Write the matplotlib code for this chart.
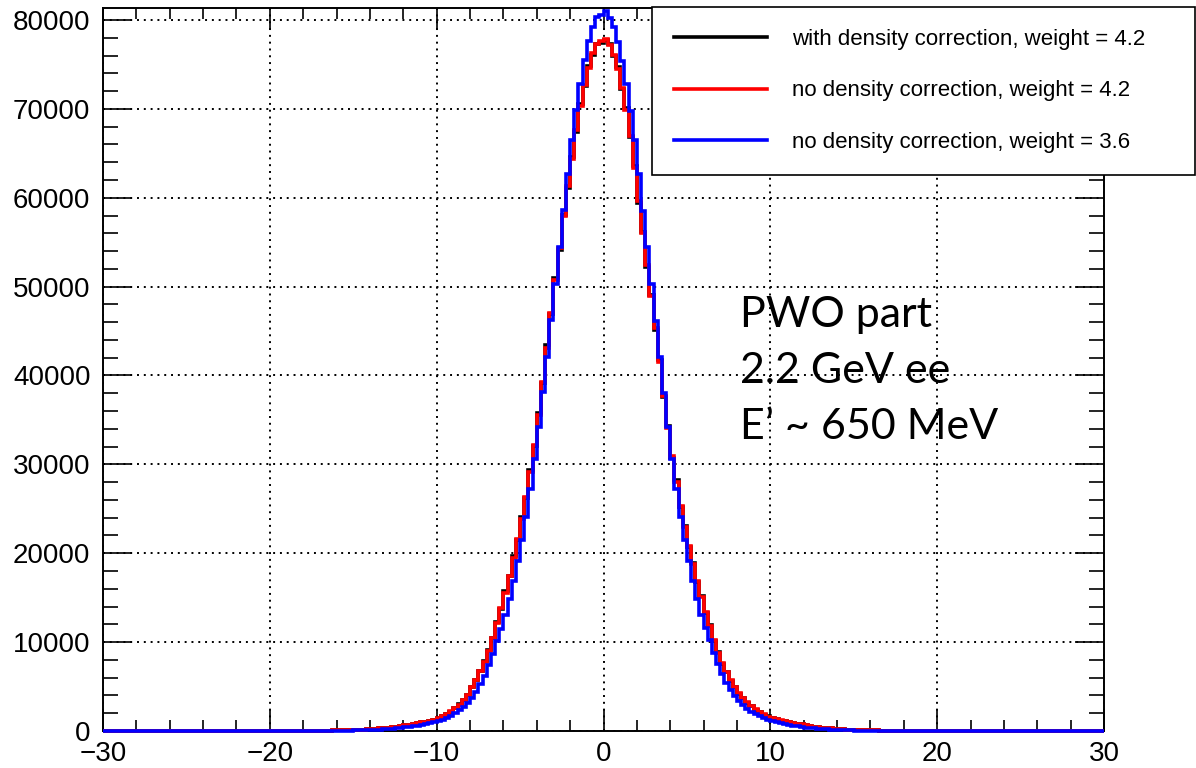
import numpy as np
import matplotlib
matplotlib.use('Agg')
import matplotlib.pyplot as plt
from matplotlib.lines import Line2D
from matplotlib.ticker import MultipleLocator

# histogram binning (ROOT style: 240 bins from -30 to 30)
x_low, x_high, n_bins = -30.0, 30.0, 240

# counts per bin (left to right)
black_counts = [
    0, 0, 0, 0, 0, 0,
    0, 0, 0, 0, 0, 0, 0, 0, 0, 0,
    0, 0, 1, 0, 0, 1, 0, 1, 0, 1,
    1, 1, 2, 1, 2, 3, 2, 3, 4, 4,
    5, 5, 6, 7, 7, 9, 10, 11, 13, 15,
    17, 19, 23, 26, 30, 34, 39, 45, 52, 61,
    70, 85, 97, 108, 126, 140, 168, 188,
    221, 247, 290, 328, 385, 433, 505, 570,
    655, 708, 795, 862, 970, 1050, 1180, 1280,
    1480, 1660, 1940, 2190, 2580, 2990, 3490, 4060,
    4950, 5780, 6800, 7820, 9100, 10500, 12250, 13780,
    15700, 17420, 19650, 21500, 24050, 26250, 29350, 32050,
    35750, 39150, 43400, 46950, 50950, 54150, 58100, 61150,
    64600, 67450, 70500, 72550, 74850, 76100, 77350, 77400,
    77700, 77300, 75900, 74700, 72250, 70050, 66800, 63600,
    59400, 56200, 52250, 49100, 45150, 41700, 37550, 34300,
    30750, 28200, 25200, 23100, 20650, 18900, 16750, 15150,
    13250, 11900, 10100, 8870, 7540, 6660, 5630, 4950,
    4200, 3720, 3180, 2830, 2410, 2150, 1840, 1650,
    1420, 1320, 1180, 1095, 975, 900, 805, 745,
    650, 575, 495, 438, 375, 330, 283, 250,
    213, 190, 161, 143, 121, 109, 93, 83,
    70, 63, 52, 47, 39, 36, 29, 27, 22, 20,
    16, 15, 12, 11, 10, 8, 7, 6, 5, 4,
    4, 3, 2, 3, 2, 1, 2, 1, 1, 0,
    1, 1, 0, 0, 1, 0, 0, 0, 0, 0,
    0, 0, 0, 0, 0, 0, 0, 0, 0, 0,
    0, 0, 0, 0, 0, 0,
]

red_counts = [
    0, 0, 0, 0, 0, 0,
    0, 0, 0, 0, 0, 0, 0, 0, 0, 0,
    0, 0, 0, 1, 0, 0, 1, 0, 1, 1,
    1, 1, 1, 2, 2, 2, 3, 3, 3, 4,
    4, 5, 5, 6, 7, 8, 9, 11, 12, 14,
    16, 19, 22, 25, 29, 33, 38, 44, 51, 62,
    72, 83, 95, 110, 124, 143, 166, 190,
    218, 250, 287, 331, 382, 437, 501, 575,
    649, 713, 787, 870, 961, 1058, 1168, 1288,
    1463, 1674, 1923, 2208, 2560, 2980, 3480, 4080,
    4900, 5760, 6720, 7800, 9030, 10520, 12170, 13820,
    15580, 17480, 19480, 21580, 23830, 26340, 29110, 32130,
    35520, 39260, 43150, 47050, 50700, 54300, 57900, 61300,
    64400, 67600, 70300, 72700, 74650, 76250, 77250, 77600,
    77900, 77200, 76100, 74500, 72400, 69900, 67000, 63400,
    59600, 56000, 52400, 48900, 45300, 41500, 37700, 34100,
    30900, 28000, 25350, 22950, 20800, 18780, 16870, 15050,
    13380, 11800, 10220, 8790, 7620, 6600, 5700, 4900,
    4240, 3690, 3210, 2800, 2440, 2130, 1860, 1630,
    1440, 1310, 1190, 1085, 985, 895, 815, 740,
    655, 572, 498, 435, 377, 327, 285, 248,
    215, 188, 163, 141, 123, 108, 94, 82,
    71, 62, 53, 46, 40, 35, 30, 26, 23, 20,
    17, 15, 13, 11, 9, 8, 7, 6, 5, 5,
    4, 3, 3, 2, 2, 2, 1, 1, 1, 1,
    1, 1, 0, 1, 0, 0, 1, 0, 0, 0,
    0, 0, 0, 0, 0, 0, 0, 0, 0, 0,
    0, 0, 0, 0, 0, 0,
]

blue_counts = [
    0, 0, 0, 0, 0, 0,
    0, 0, 0, 0, 0, 0, 0, 0, 0, 0,
    0, 0, 0, 0, 0, 0, 0, 0, 1, 0,
    0, 1, 0, 1, 1, 1, 1, 1, 1, 1,
    2, 2, 2, 2, 3, 3, 4, 5, 5, 6,
    7, 8, 10, 11, 13, 15, 17, 20, 23, 27,
    30, 35, 42, 49, 58, 68, 80, 95,
    114, 133, 157, 186, 219, 257, 300, 352,
    404, 456, 518, 589, 665, 760, 865, 980,
    1120, 1290, 1490, 1730, 2010, 2340, 2720, 3160,
    3740, 4430, 5260, 6230, 7370, 8680, 10100, 11480,
    13050, 14850, 16850, 19100, 21450, 24100, 27200, 30600,
    34250, 38100, 42100, 46200, 50350, 54500, 58600, 62700,
    66500, 69850, 72850, 75450, 77600, 79250, 80300, 80600,
    81000, 80250, 79200, 77550, 75400, 72800, 69800, 66450,
    62650, 58550, 54450, 50300, 46150, 42050, 38050, 34200,
    30550, 27200, 24100, 21450, 19100, 16900, 14900, 13100,
    11550, 10200, 8800, 7500, 6380, 5430, 4630, 3950,
    3400, 2930, 2530, 2190, 1890, 1640, 1420, 1240,
    1090, 965, 850, 745, 660, 580, 510, 450,
    390, 335, 287, 245, 208, 176, 150, 128,
    107, 90, 77, 65, 56, 47, 40, 33,
    28, 24, 21, 18, 16, 14, 12, 10, 9, 7,
    6, 5, 5, 4, 4, 3, 3, 2, 2, 2,
    1, 1, 1, 1, 1, 1, 1, 0, 1, 0,
    0, 1, 0, 0, 0, 0, 0, 0, 0, 0,
    0, 0, 0, 0, 0, 0, 0, 0, 0, 0,
    0, 0, 0, 0, 0, 0,
]

labels = ['with density correction, weight = 4.2',
          'no density correction, weight = 4.2',
          'no density correction, weight = 3.6']
colors = ['black', 'red', 'blue']
note_lines = ['PWO part', '2.2 GeV ee', 'E\u2019 ~ 650 MeV']

plt.rcParams['font.family'] = ['Liberation Sans', 'DejaVu Sans']

fig = plt.figure(figsize=(11.96, 7.68), dpi=100)
ax = fig.add_axes([103 / 1196, 37 / 768, 1001 / 1196, 723 / 768])

edges = np.linspace(x_low, x_high, n_bins + 1)
for counts, c in zip([black_counts, red_counts, blue_counts], colors):
    ax.stairs(counts, edges, color=c, lw=2.6, clip_on=False, zorder=3)

ax.set_xlim(x_low, x_high)
ax.set_ylim(0, 81350)

ax.xaxis.set_major_locator(MultipleLocator(10))
ax.xaxis.set_minor_locator(MultipleLocator(2))
ax.yaxis.set_major_locator(MultipleLocator(10000))
ax.yaxis.set_minor_locator(MultipleLocator(2000))

# ROOT-ish ticks: inside, on all four sides
ax.tick_params(axis='both', which='both', direction='in', top=True, right=True,
               labelsize=20, width=1.2)
ax.tick_params(axis='x', which='major', length=16, pad=7)
ax.tick_params(axis='x', which='minor', length=8)
ax.tick_params(axis='y', which='major', length=21, pad=9)
ax.tick_params(axis='y', which='minor', length=11)

ax.grid(True, which='major', color='black', lw=1.4, linestyle=(0, (1, 2.5)))
ax.set_axisbelow(True)
for sp in ax.spines.values():
    sp.set_linewidth(1.4)

handles = [Line2D([], [], color=c, lw=2.6) for c in colors]
leg = ax.legend(handles, labels, loc='upper left',
                bbox_to_anchor=(652 / 1196, 0, 543 / 1196, 1 - 7 / 768),
                bbox_transform=fig.transFigure, mode='expand',
                fontsize=16, frameon=True, fancybox=False, framealpha=1,
                edgecolor='black', borderaxespad=0, borderpad=0.98,
                labelspacing=1.38, handlelength=4.2, handletextpad=1.1)
leg.get_frame().set_linewidth(1.2)
leg.set_zorder(5)

for i, line in enumerate(note_lines):
    fig.text(740 / 1196, 1 - (327 + 56 * i) / 768, line, fontsize=31,
             family=['Lato', 'DejaVu Sans'], va='baseline', ha='left')

fig.savefig('out.png', dpi=100)
